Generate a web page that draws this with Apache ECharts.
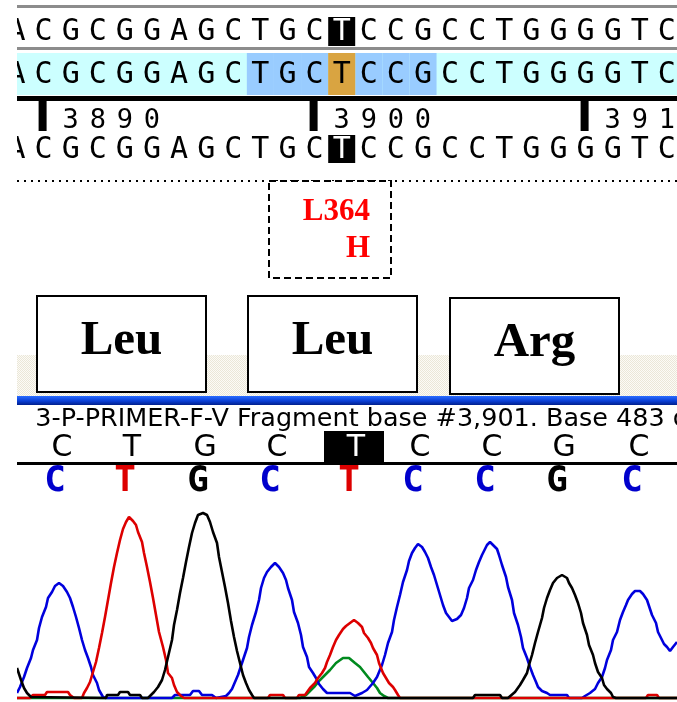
<!DOCTYPE html>
<html><head><meta charset="utf-8">
<script src="https://cdn.jsdelivr.net/npm/echarts@6/dist/echarts.min.js"></script>
<style>html,body{margin:0;padding:0;background:#fff}#c{width:677px;height:702px}</style>
</head><body><div id="c"></div>
<script>
// ---------- data ----------
const refSeq    = ['A','C','G','C','G','G','A','G','C','T','G','C','T','C','C','G','C','C','T','G','G','G','G','T','C'];
const alignSeq  = ['A','C','G','C','G','G','A','G','C','T','G','C','T','C','C','G','C','C','T','G','G','G','G','T','C'];
const sampleSeq = ['A','C','G','C','G','G','A','G','C','T','G','C','T','C','C','G','C','C','T','G','G','G','G','T','C'];
const firstBase = 3889;              // base number of the first column
const mutBase = 3901;                // highlighted base
const codonBefore = [3898, 3899, 3900];
const codonAfter  = [3902, 3903, 3904];
const tickLabels = ['3890', '3900', '3910'];
const mutationLabel = ['L364', 'H'];
const aminoAcids = ['Leu', 'Leu', 'Arg'];
const fragmentText = '3-P-PRIMER-F-V Fragment base #3,901. Base 483 of';
const callBases = ['C','T','G','C','T','C','C','G','C'];
const callPeaks = [60, 130, 203, 275, 354, 418, 490, 562, 637];
const callHighlight = 4;

// chromatogram traces: [scan position, signal]
const traceBlue = [[17,5],[20,11],[24,21],[27,30],[31,40],[33,48],[37,58],[39,70],[42,81],[46,91],[48,100],[52,106],[55,112],[59,115],[63,112],[67,106],[70,100],[73,91],[76,81],[79,70],[82,58],[85,48],[88,40],[91,31],[93,23],[97,15],[99,8],[103,1],[106,0],[172,0],[175,3],[190,3],[193,7],[199,7],[202,3],[212,3],[216,0],[226,2],[229,5],[232,9],[235,16],[238,23],[243,38],[247,50],[249,61],[252,73],[256,86],[259,98],[261,110],[264,120],[267,126],[271,131],[275,135],[279,131],[283,125],[286,118],[288,110],[292,98],[294,86],[298,75],[301,63],[303,51],[307,41],[309,31],[313,25],[316,20],[319,14],[323,9],[327,5],[350,5],[355,2],[362,5],[367,8],[373,15],[377,21],[382,33],[385,43],[388,55],[392,66],[394,78],[397,91],[400,103],[403,116],[407,128],[409,137],[412,145],[415,150],[418,154],[422,151],[425,146],[428,140],[431,131],[434,123],[437,113],[440,103],[443,93],[446,85],[449,81],[452,77],[454,75],[457,79],[461,83],[464,90],[467,100],[469,110],[473,118],[476,128],[479,136],[482,143],[485,149],[487,153],[490,156],[493,153],[497,149],[499,143],[502,133],[506,121],[508,111],[512,98],[514,85],[518,73],[521,61],[523,50],[527,40],[530,31],[533,23],[536,16],[538,11],[542,7],[547,5],[550,3],[567,3],[569,0],[582,0],[585,2],[590,5],[595,9],[598,15],[602,21],[605,30],[607,38],[611,48],[613,58],[617,66],[620,78],[623,86],[626,93],[628,98],[632,104],[635,107],[640,107],[643,104],[647,98],[649,92],[652,83],[656,75],[658,66],[662,58],[664,54],[667,51],[670,47],[673,51],[677,56]];
const traceRed = [[17,0],[30,0],[33,3],[45,3],[47,6],[68,6],[70,3],[74,0],[82,0],[84,5],[87,10],[90,16],[93,26],[96,36],[99,50],[102,65],[105,81],[108,98],[111,115],[114,131],[117,145],[120,158],[123,169],[126,176],[129,181],[133,177],[136,173],[138,166],[142,156],[144,145],[147,131],[150,116],[153,100],[156,83],[159,66],[163,51],[166,38],[168,25],[172,20],[174,13],[177,6],[181,2],[184,0],[268,0],[270,3],[283,3],[285,0],[297,0],[299,3],[305,3],[307,5],[310,10],[315,15],[318,20],[322,25],[325,30],[327,36],[330,43],[333,51],[336,58],[339,63],[343,69],[346,72],[350,75],[354,78],[358,75],[362,71],[364,65],[368,60],[371,55],[373,50],[377,43],[379,35],[383,25],[386,20],[389,15],[393,11],[395,8],[398,3],[400,0],[646,0],[648,3],[657,3],[659,0],[677,0]];
const traceBlack = [[17,30],[21,18],[24,10],[27,5],[31,1],[33,0],[106,0],[107,3],[118,3],[120,6],[128,6],[130,3],[140,3],[142,0],[148,0],[150,2],[154,6],[158,11],[162,18],[165,28],[168,41],[172,58],[174,73],[177,88],[180,105],[183,120],[186,136],[189,151],[192,165],[195,175],[198,183],[203,185],[207,183],[210,176],[213,166],[217,155],[219,141],[222,126],[225,111],[228,95],[231,77],[234,61],[237,47],[240,35],[243,23],[246,15],[249,8],[252,3],[254,0],[473,0],[475,3],[500,3],[502,0],[508,0],[510,2],[515,6],[520,13],[523,18],[527,25],[529,33],[532,43],[535,55],[538,66],[542,80],[544,90],[547,100],[550,108],[553,115],[557,120],[562,123],[567,120],[569,115],[572,110],[575,103],[578,95],[581,85],[583,75],[587,63],[589,53],[593,43],[595,35],[598,26],[602,20],[604,13],[607,9],[611,5],[613,1],[616,0],[677,0]];
const traceGreen = [[17,0],[300,0],[306,3],[310,7],[315,12],[320,18],[325,23],[330,28],[336,35],[343,40],[349,40],[355,35],[360,31],[364,26],[368,21],[373,15],[377,10],[380,5],[384,2],[388,0],[677,0]];

// ---------- layout ----------
const COL0 = 16.5, PITCH = 27.1;
const colX = i => COL0 + i * PITCH;
const colOf = b => b - firstBase;
const seqFont = '30px "DejaVu Sans Mono"';
const boxLeft = [37, 248, 450], boxTop = [296, 296, 298], boxW = 169, boxH = 96;

const chart = echarts.init(document.getElementById('c'));
const traceColors = {green:'#008a1e', blue:'#0000dd', red:'#dd0000', black:'#000000'};
function mkSeries(name, data, color) {
  return {type:'line', name, data, showSymbol:false, smooth:false, clip:false,
    lineStyle:{color, width:2.6}, itemStyle:{color}, silent:true, animation:false};
}
chart.setOption({
  animation:false,
  grid:{left:17, right:0, top:498, bottom:4},
  xAxis:{type:'value', min:17, max:677, show:false},
  yAxis:{type:'value', min:0, max:200, show:false},
  series:[
    mkSeries('G', traceGreen, traceColors.green),
    mkSeries('C', traceBlue, traceColors.blue),
    mkSeries('T', traceRed, traceColors.red),
    mkSeries('G2', traceBlack, traceColors.black)
  ]
});

const g = [];
const rect = (x,y,w,h,fill,extra) => g.push(Object.assign({type:'rect', shape:{x,y,width:w,height:h}, style:{fill}}, extra||{}));
const txt = (x,y,text,font,fill,align,extra) => g.push(Object.assign({type:'text', style:{x,y,text,font,fill,textAlign:align||'center',textVerticalAlign:'middle'}}, extra||{}));

// row 1 (reference)
rect(17,5,660,3,'#8c8c8c');
rect(colX(colOf(mutBase))-13.5,17,27,29,'#000');
refSeq.forEach((b,i)=>txt(colX(i),32,b,seqFont,i===colOf(mutBase)?'#fff':'#000'));
rect(17,47,660,3,'#8c8c8c');
// row 2 (alignment)
rect(17,53,660,42,'#ccffff');
codonBefore.concat(codonAfter).forEach(b=>rect(colX(colOf(b))-13.55,53,27.1,42,'#99ccff'));
rect(colX(colOf(mutBase))-13.55,53,27.1,42,'#d9a441');
alignSeq.forEach((b,i)=>txt(colX(i),75,b,seqFont,'#000'));
rect(17,96,660,5,'#000');
// ruler
tickLabels.forEach(lab=>{
  const c = colOf(+lab);
  rect(colX(c)-5,100,8,31,'#000');
  lab.split('').forEach((d,k)=>txt(colX(c+1+k),121,d,'27px "DejaVu Sans Mono"','#000'));
});
// row 3 (sample)
rect(colX(colOf(mutBase))-13.5,135,27,28,'#000');
sampleSeq.forEach((b,i)=>txt(colX(i),150,b,seqFont,i===colOf(mutBase)?'#fff':'#000'));
g.push({type:'line', shape:{x1:17,y1:181,x2:677,y2:181}, style:{stroke:'#000',lineWidth:2,lineDash:[2,5]}});
// mutation box
g.push({type:'rect', shape:{x:269,y:181,width:122,height:97}, style:{fill:'#fff',stroke:'#000',lineWidth:2,lineDash:[7,4]}});
txt(370,212,mutationLabel[0],'bold 31px "Liberation Serif"','#ff0000','right');
txt(370,249,mutationLabel[1],'bold 31px "Liberation Serif"','#ff0000','right');
// beige pattern band
const pc = document.createElement('canvas'); pc.width=2; pc.height=2;
const pctx = pc.getContext('2d'); pctx.fillStyle='#fcfbf7'; pctx.fillRect(0,0,2,2);
pctx.fillStyle='#ebe7d8'; pctx.fillRect(0,0,1,1); pctx.fillRect(1,1,1,1);
rect(17,355,660,41,{image:pc, repeat:'repeat'});
// amino acid boxes
aminoAcids.forEach((aa,i)=>{
  g.push({type:'rect', shape:{x:boxLeft[i],y:boxTop[i],width:boxW,height:boxH}, style:{fill:'#fff',stroke:'#000',lineWidth:2}});
  txt(boxLeft[i]+boxW/2, boxTop[i]+45, aa, 'bold 49px "Liberation Serif"', '#000');
});
// blue bar
rect(17,396,660,9,{type:'linear',x:0,y:0,x2:0,y2:1,colorStops:[{offset:0,color:'#2a6cff'},{offset:0.55,color:'#0a3fd6'},{offset:1,color:'#001f8c'}]});
// fragment text
const mctx = document.createElement('canvas').getContext('2d');
const fragFont = '25px "DejaVu Sans"';
mctx.font = fragFont;
const fi = fragmentText.indexOf('Fragment'), bi = fragmentText.indexOf('Base');
const wPre = mctx.measureText(fragmentText.slice(0,fi)).width;
const wMid = mctx.measureText(fragmentText.slice(fi,bi)).width;
const sx = (546-237)/wMid;
g.push({type:'text', x:237 - sx*wPre, y:419, scaleX:sx, style:{x:0,y:0,text:fragmentText,font:fragFont,fill:'#000',textAlign:'left',textVerticalAlign:'middle'}});
// base calls
const px = callPeaks.map(p=>chart.convertToPixel({gridIndex:0},[p,0])[0]);
rect(px[callHighlight]-30,431,60,31,'#000');
callBases.forEach((b,i)=>txt(px[i]+2,448,b,'30px "DejaVu Sans"',i===callHighlight?'#fff':'#000'));
rect(17,462,660,3,'#000');
const baseColor = {A:'#008a1e', C:'#0000cc', G:'#000000', T:'#dd0000'};
callBases.forEach((b,i)=>txt(px[i]-5,482,b,'bold 36px "DejaVu Sans Mono"',baseColor[b]));
// left white margin
rect(0,0,17,702,'#fff',{z:100});

chart.setOption({graphic:{elements:g}});
</script></body></html>
